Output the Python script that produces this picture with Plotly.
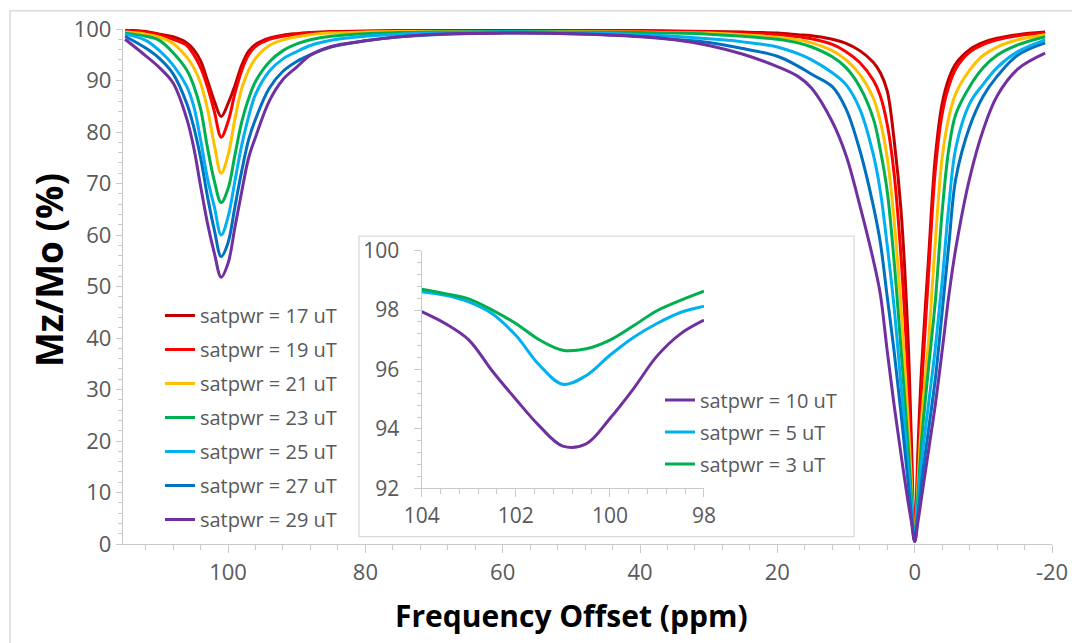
import plotly.graph_objects as go

# ---------------- data ----------------
freq = [115, 112, 110, 108, 106, 105, 104, 103, 102, 101,
        100, 99, 98, 97, 96, 94, 92, 90, 88, 85,
        80, 75, 70, 60, 50, 40, 35, 30, 25, 20,
        17, 15, 12, 10, 8, 6, 5, 4, 3, 2,
        1, 0.5, 0, -0.5, -1, -2, -3, -4, -5, -6,
        -8, -10, -12, -15, -19]

mz_17 = [99.8, 99.5, 99.0, 98.5, 97.3, 96.0, 93.8, 90.0, 86.0, 83.0,
         85.5, 89.0, 93.0, 95.7, 97.0, 98.2, 98.8, 99.1, 99.3, 99.5,
         99.6, 99.7, 99.7, 99.7, 99.7, 99.7, 99.6, 99.5, 99.4, 99.2,
         98.9, 98.7, 98.0, 97.2, 95.8, 93.5, 91.5, 88.0, 78.5, 65.0,
         41.0, 21.0, 0.8, 19.0, 34.0, 55.0, 75.0, 85.5, 90.5, 93.3,
         96.0, 97.4, 98.2, 98.9, 99.4]
mz_19 = [99.7, 99.4, 98.9, 98.0, 96.8, 95.0, 92.5, 88.8, 84.0, 79.0,
         82.0, 87.5, 92.0, 95.0, 96.6, 98.0, 98.6, 99.0, 99.2, 99.4,
         99.5, 99.6, 99.6, 99.6, 99.6, 99.5, 99.5, 99.4, 99.2, 98.9,
         98.5, 98.1, 97.0, 95.6, 93.5, 90.0, 87.0, 81.5, 72.0, 56.0,
         33.0, 16.0, 0.6, 16.0, 30.0, 52.0, 72.5, 83.5, 89.0, 92.3,
         95.5, 97.0, 97.9, 98.7, 99.2]
mz_21 = [99.4, 99.0, 98.4, 97.2, 94.5, 92.5, 89.5, 84.5, 77.5, 72.0,
         75.5, 82.5, 88.5, 92.0, 94.3, 96.8, 97.9, 98.5, 98.9, 99.2,
         99.4, 99.5, 99.5, 99.5, 99.5, 99.4, 99.3, 99.2, 98.9, 98.4,
         97.9, 97.3, 95.8, 94.0, 91.2, 86.5, 82.0, 75.0, 63.0, 46.0,
         25.0, 12.5, 0.5, 12.0, 24.0, 39.0, 58.5, 75.0, 83.0, 87.5,
         92.0, 94.9, 96.5, 97.9, 98.9]
mz_23 = [99.2, 98.6, 97.8, 95.4, 92.0, 89.0, 84.5, 77.0, 70.5, 66.3,
         69.0, 75.5, 82.0, 86.5, 89.8, 93.6, 95.8, 97.1, 97.9, 98.6,
         99.1, 99.3, 99.4, 99.5, 99.4, 99.3, 99.2, 99.0, 98.6, 98.0,
         97.3, 96.5, 94.6, 92.5, 88.8, 82.5, 76.5, 68.5, 55.0, 38.0,
         20.0, 10.0, 0.5, 10.0, 20.0, 34.0, 47.0, 64.5, 77.0, 83.5,
         88.8, 92.5, 94.9, 96.9, 98.5]
mz_25 = [99.0, 97.8, 95.8, 93.0, 88.8, 85.0, 78.5, 71.0, 65.5, 60.0,
         63.5, 70.5, 77.5, 83.0, 87.3, 91.8, 94.2, 95.6, 96.8, 97.8,
         98.6, 99.0, 99.2, 99.4, 99.3, 98.9, 98.6, 98.1, 97.5, 96.5,
         95.2, 94.0, 91.5, 89.2, 84.5, 75.5, 68.5, 58.0, 46.0, 31.0,
         15.5, 8.0, 0.5, 8.0, 16.0, 27.0, 38.0, 51.0, 66.0, 77.0,
         85.5, 89.3, 92.5, 95.6, 97.9]
mz_27 = [98.6, 96.3, 94.3, 91.3, 85.5, 81.0, 75.0, 67.5, 61.0, 55.8,
         58.5, 65.5, 72.5, 78.5, 82.5, 88.5, 91.8, 93.7, 95.0, 96.5,
         97.7, 98.5, 98.9, 99.2, 99.1, 98.6, 98.0, 97.4, 96.2, 94.7,
         92.8, 91.2, 88.8, 84.5, 76.5, 65.5, 58.5, 48.0, 37.5, 25.5,
         12.5, 6.0, 0.5, 6.0, 12.0, 22.0, 32.0, 45.0, 58.5, 71.0,
         81.0, 87.0, 90.8, 94.9, 97.3]
mz_29 = [98.0, 94.8, 92.5, 89.5, 82.5, 77.0, 69.5, 62.3, 56.5, 51.8,
         54.5, 61.5, 68.5, 75.0, 79.0, 86.0, 90.2, 92.6, 94.9, 96.6,
         97.7, 98.5, 99.0, 99.2, 99.1, 98.5, 97.9, 96.8, 95.1, 92.7,
         90.8, 88.5, 82.0, 75.5, 65.8, 55.0, 48.5, 37.5, 27.0, 17.5,
         8.5, 4.5, 0.5, 4.5, 9.0, 18.0, 27.0, 37.5, 48.5, 57.5,
         71.0, 80.5, 87.0, 92.2, 95.3]

main_names = ["satpwr = 17 uT", "satpwr = 19 uT", "satpwr = 21 uT", "satpwr = 23 uT",
              "satpwr = 25 uT", "satpwr = 27 uT", "satpwr = 29 uT"]
main_series = [mz_17, mz_19, mz_21, mz_23, mz_25, mz_27, mz_29]
main_colors = ["#C00000", "#FF0000", "#FFC000", "#00B050", "#00B0F0", "#0070C0", "#7030A0"]

x_tickvals = [100, 80, 60, 40, 20, 0, -20]
x_ticktext = ["100", "80", "60", "40", "20", "0", "-20"]

inset_freq = [104, 103.5, 103, 102.5, 102, 101.5, 101, 100.5, 100, 99.5, 99, 98.5, 98]
ins_10 = [97.95, 97.55, 97.0, 95.95, 95.0, 94.1, 93.42, 93.5, 94.35, 95.35, 96.45, 97.2, 97.66]
ins_5 = [98.62, 98.5, 98.28, 97.88, 97.15, 96.15, 95.5, 95.8, 96.48, 97.08, 97.55, 97.92, 98.13]
ins_3 = [98.7, 98.55, 98.38, 98.0, 97.55, 97.0, 96.65, 96.7, 96.99, 97.47, 97.98, 98.33, 98.64]
inset_names = ["satpwr = 10 uT", "satpwr = 5 uT", "satpwr = 3 uT"]
inset_series = [ins_10, ins_5, ins_3]
inset_colors = ["#7030A0", "#00B0F0", "#00B050"]

FONT = "Open Sans"
TICKC = "#595959"
AXC = "#C9C9C9"

fig = go.Figure()

for i, (nm, ys, c) in enumerate(zip(main_names, main_series, main_colors)):
    fig.add_trace(go.Scatter(x=freq, y=ys, mode="lines", name=nm,
                             line=dict(color=c, width=3, shape="spline", smoothing=1.0),
                             legendgroup="m%d" % i, legend="legend",
                             xaxis="x", yaxis="y"))

for i, (nm, ys, c) in enumerate(zip(inset_names, inset_series, inset_colors)):
    fig.add_trace(go.Scatter(x=inset_freq, y=ys, mode="lines", name=nm,
                             line=dict(color=c, width=3, shape="spline", smoothing=1.0),
                             legendgroup="i%d" % i, legend="legend2",
                             xaxis="x2", yaxis="y2"))

axis_common = dict(showline=True, linecolor=AXC, linewidth=1.3, ticks="outside",
                   tickcolor=AXC, showgrid=False, zeroline=False, automargin=False)

fig.update_layout(
    width=1072, height=643,
    margin=dict(l=123, r=20, t=29, b=99),
    paper_bgcolor="white", plot_bgcolor="white",
    font=dict(family=FONT, color=TICKC),
    xaxis=dict(range=[115.3, -20], tickmode="array", tickvals=x_tickvals, ticktext=x_ticktext,
               ticklen=8,
               minor=dict(dtick=4, tick0=0, ticks="outside", ticklen=5, tickcolor=AXC),
               tickfont=dict(family=FONT, size=22, color=TICKC), domain=[0, 1], **axis_common),
    yaxis=dict(range=[0, 100], tick0=0, dtick=10, ticklen=6,
               minor=dict(dtick=2, tick0=0, ticks="outside", ticklen=4, tickcolor=AXC),
               tickfont=dict(family=FONT, size=22, color=TICKC), domain=[0, 1], **axis_common),
    xaxis2=dict(range=[104, 98], tick0=98, dtick=2, ticklen=8, anchor="y2",
                domain=[0.3215, 0.6254],
                minor=dict(dtick=0.4, tick0=98, ticks="outside", ticklen=5, tickcolor=AXC),
                tickfont=dict(family=FONT, size=21, color=TICKC), **axis_common),
    yaxis2=dict(range=[92, 100], tick0=92, dtick=2, ticklen=7, anchor="x2",
                domain=[0.1082, 0.5695], ticklabelstandoff=10,
                minor=dict(dtick=0.4, tick0=92, ticks="outside", ticklen=4, tickcolor=AXC),
                tickfont=dict(family=FONT, size=21, color=TICKC), **axis_common),
    legend=dict(x=0.0398, y=0.4816, xanchor="left", yanchor="top",
                bgcolor="rgba(0,0,0,0)", tracegroupgap=5,
                font=dict(family=FONT, size=20, color=TICKC)),
    legend2=dict(x=0.578, y=0.3175, xanchor="left", yanchor="top",
                 bgcolor="rgba(0,0,0,0)", tracegroupgap=3,
                 font=dict(family=FONT, size=20, color=TICKC)),
    showlegend=True,
    shapes=[
        dict(type="rect", xref="paper", yref="paper", x0=-0.1216, x1=1.05, y0=-0.25, y1=1.0355,
             line=dict(color="#D9D9D9", width=1.5), fillcolor="rgba(0,0,0,0)", layer="below"),
        dict(type="rect", xref="paper", yref="paper", x0=0.254, x1=0.7869, y0=0.0142, y1=0.598,
             line=dict(color="#D9D9D9", width=1.3), fillcolor="white", layer="below"),
    ],
    annotations=[
        dict(text="<b>Frequency Offset (ppm)</b>", xref="paper", yref="paper",
             x=0.4833, y=-0.138, xanchor="center", yanchor="middle", showarrow=False,
             font=dict(family=FONT, size=30, color="black")),
        dict(text="<b>Mz/Mo (%)</b>", xref="paper", yref="paper", textangle=-90,
             x=-0.0807, y=0.532, xanchor="center", yanchor="middle", showarrow=False,
             font=dict(family=FONT, size=37, color="black")),
    ],
)

fig.write_html("out.html")
